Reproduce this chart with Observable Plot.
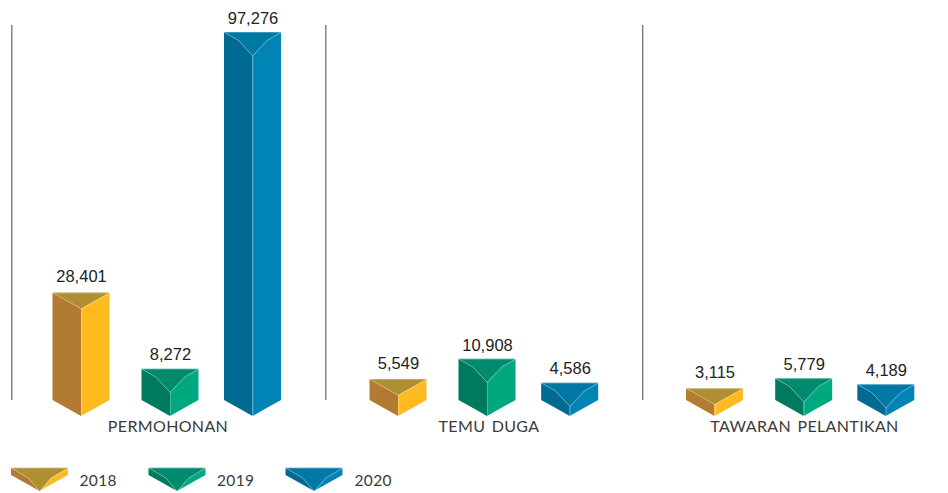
<!DOCTYPE html>
<html>
<head>
<meta charset="utf-8">
<script src="https://cdn.jsdelivr.net/npm/d3@7"></script>
<script src="https://cdn.jsdelivr.net/npm/@observablehq/plot@0.6"></script>
<style>
html,body{margin:0;padding:0;background:#fff}
svg{display:block}
.cat text{letter-spacing:.35px;word-spacing:2px}
</style>
</head>
<body>
<div id="chart"></div>
<div id="legend"></div>
<script>
// Data
const categories = ["PERMOHONAN", "TEMU DUGA", "TAWARAN PELANTIKAN"];
const years = ["2018", "2019", "2020"];
const values2018 = [28401, 5549, 3115];
const values2019 = [8272, 10908, 5779];
const values2020 = [97276, 4586, 4189];
const seriesValues = [values2018, values2019, values2020];

// Layout (separate from the data)
const categoryX = [167.5, 488.5, 804];
const barX = [[81, 398, 714.5], [170, 487, 803.7], [252.5, 569.7, 885.8]];
const dividerX = [11.3, 325.3, 642.2];
const legendX = [39.5, 177, 314];
const legendTextX = [79, 216.5, 354];
const halfWidth = 28.5;
const palettes = [
  {left: "#B37A32", right: "#FFBA1F", top: "#B08F33"},
  {left: "#007A5E", right: "#00A880", top: "#008A6E"},
  {left: "#006A92", right: "#0083B5", top: "#0078A4"}
];

const width = 948, chartHeight = 450, legendHeight = 43;
const basePx = 400, topPx = 32;
const unitsPerPx = 97276 / (basePx - topPx);
const axisTop = (basePx - 25) * unitsPerPx;

// Builds the three faces of one prism in data units
function prism(id, cx, value, base, u, pal, shape) {
  const {depth, kinkDx, kinkDy} = shape;
  const skirt = dx => (dx / halfWidth) * 16 * u;
  const upper = kinkDx
    ? [[0, 0], [kinkDx, kinkDy], [halfWidth, depth]]
    : [[0, 0], [halfWidth, depth]];
  const left = [], right = [], top = [], edgeA = [];
  for (const [dx, dy] of upper) {
    left.push({id: id + "L", x: cx - halfWidth + dx, y1: base - skirt(dx), y2: value - dy * u, fill: pal.left});
    right.push({id: id + "R", x: cx + halfWidth - dx, y1: base - skirt(dx), y2: value - dy * u, fill: pal.right});
  }
  const all = [...upper, ...upper.slice(0, -1).reverse().map(([dx, dy]) => [2 * halfWidth - dx, dy])];
  for (const [dx, dy] of all) {
    top.push({id: id + "T", x: cx - halfWidth + dx, y1: value, y2: value - dy * u, fill: pal.top});
    edgeA.push({id: id + "E", x: cx - halfWidth + dx, y: value - dy * u});
  }
  const edges = [
    ...edgeA,
    {id: id + "C", x: cx, y: value - depth * u},
    {id: id + "C", x: cx, y: base - 16 * u},
    {id: id + "U", x: cx - halfWidth, y: value},
    {id: id + "U", x: cx + halfWidth, y: value}
  ];
  return {sides: [...left, ...right], top, edges};
}

function prismMarks(items) {
  const sides = items.flatMap(d => d.sides);
  const tops = items.flatMap(d => d.top);
  const edges = items.flatMap(d => d.edges);
  const area = rows => Plot.area(rows, {x1: "x", y1: "y1", y2: "y2", z: "id", fill: "fill"});
  return [
    area(sides),
    area(tops),
    Plot.line(edges, {x: "x", y: "y", z: "id", stroke: "#fff", strokeOpacity: 0.35, strokeWidth: 0.7})
  ];
}

const barRows = [];
const prisms = [];
years.forEach((year, s) => {
  categories.forEach((cat, c) => {
    const v = seriesValues[s][c];
    barRows.push({series: s, x: barX[s][c], value: v, label: d3.format(",")(v)});
    const shape = s === 0 ? {depth: 16} : {depth: 23.5, kinkDx: 14, kinkDy: 8};
    prisms.push(prism(`${s}-${c}`, barX[s][c], v, 0, unitsPerPx, palettes[s], shape));
  });
});

const valueLabel = {x: "x", y: "value", text: "label", fontSize: 16.5, fontFamily: "Liberation Sans, Arial, sans-serif", fill: "#222"};

const chart = Plot.plot({
  width, height: chartHeight,
  marginTop: 0, marginRight: 0, marginBottom: 0, marginLeft: 0,
  x: {domain: [0, width], range: [0, width], axis: null},
  y: {domain: [(basePx - chartHeight) * unitsPerPx, basePx * unitsPerPx], range: [chartHeight, 0], axis: null},
  color: {type: "identity"},
  style: {background: "#fff"},
  marks: [
    Plot.ruleX(dividerX, {y1: 0, y2: axisTop, stroke: "#666", strokeWidth: 1.2}),
    ...prismMarks(prisms),
    Plot.text(barRows.filter(d => d.series === 0), {...valueLabel, dy: -16}),
    Plot.text(barRows.filter(d => d.series !== 0), {...valueLabel, dy: -14}),
    Plot.text(categories, {x: (d, i) => categoryX[i], y: () => 0, text: d => d, dy: 26, fontSize: 16, fontFamily: "Lato, sans-serif", fill: "#3a3a3a", className: "cat"})
  ]
});
document.getElementById("chart").append(chart);

const legendPrisms = years.map((y, s) =>
  prism("L" + s, legendX[s], 7.3, 0, 1, palettes[s], {depth: 23.5, kinkDx: 17, kinkDy: 10}));
const legend = Plot.plot({
  width, height: legendHeight,
  marginTop: 0, marginRight: 0, marginBottom: 0, marginLeft: 0,
  x: {domain: [0, width], range: [0, width], axis: null},
  y: {domain: [25 - legendHeight, 25], range: [legendHeight, 0], axis: null},
  color: {type: "identity"},
  style: {background: "#fff"},
  marks: [
    ...prismMarks(legendPrisms),
    Plot.text(years, {x: (d, i) => legendTextX[i], y: () => -6, text: d => d, textAnchor: "start", fontSize: 15.5, fontFamily: "Lato, sans-serif", fill: "#3a3a3a", className: "cat"})
  ]
});
document.getElementById("legend").append(legend);
</script>
</body>
</html>
